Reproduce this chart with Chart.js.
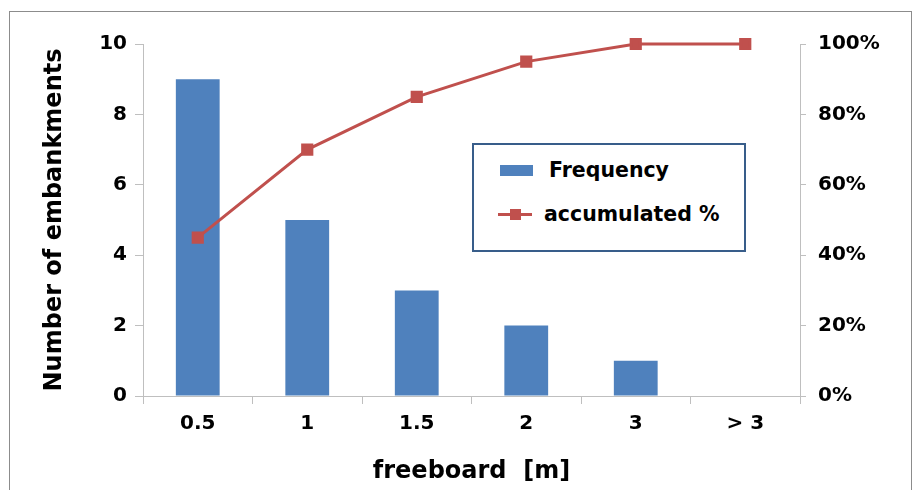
<!DOCTYPE html>
<html>
<head>
<meta charset="utf-8">
<script src="https://cdn.jsdelivr.net/npm/chart.js@4/dist/chart.umd.min.js"></script>
<style>
  html, body { margin: 0; padding: 0; background: #fff; }
  #wrap { position: relative; width: 918px; height: 490px; }
  #frame { position: absolute; left: 9px; top: 11px; width: 903px; height: 490px; border: 1px solid #8c8c8c; box-sizing: border-box; pointer-events: none; }
  #legend { position: absolute; left: 472px; top: 143px; width: 274px; height: 109px; border: 2.5px solid #385d8a; box-sizing: border-box; background: #fff;
    font-family: "DejaVu Sans", Verdana, sans-serif; font-weight: bold; font-size: 20.5px; color: #000; }
  .row { position: absolute; left: 0; display: flex; align-items: center; white-space: nowrap; }
  .sw-bar { width: 33px; height: 11px; background: #4f81bd; margin-left: 26px; margin-right: 16px; }
  .sw-line { position: relative; width: 34px; height: 11px; margin-left: 24px; margin-right: 12px; }
  .sw-line::before { content: ""; position: absolute; left: 0; right: 0; top: 4px; height: 3px; background: #c0504d; }
  .sw-line::after { content: ""; position: absolute; left: 12px; top: 0; width: 11px; height: 11px; background: #c0504d; }
</style>
</head>
<body>
<div id="wrap">
  <canvas id="chart" width="918" height="490"></canvas>
  <div id="frame"></div>
  <div id="legend"></div>
</div>
<script>
// Data
const categories = ['0.5', '1', '1.5', '2', '3', '> 3'];
const frequency = [9, 5, 3, 2, 1, 0];
const accumulated = [45, 70, 85, 95, 100, 100];

const tickFont = { family: '"DejaVu Sans", Verdana, sans-serif', weight: 'bold', size: 20 };
const titleFont = { family: '"DejaVu Sans", Verdana, sans-serif', weight: 'bold', size: 24 };
const axisGray = '#bfbfbf';

// HTML legend
const legendEl = document.getElementById('legend');
legendEl.innerHTML = `
  <div class="row" style="top:13px"><span class="sw-bar"></span>Frequency</div>
  <div class="row" style="top:57px"><span class="sw-line"></span>accumulated %</div>
`;

const ctx = document.getElementById('chart').getContext('2d');
new Chart(ctx, {
    data: {
        labels: categories,
        datasets: [
            {
                type: 'line',
                label: 'accumulated %',
                data: accumulated,
                yAxisID: 'y2',
                borderColor: '#c0504d',
                backgroundColor: '#c0504d',
                borderWidth: 3,
                pointStyle: 'rect',
                pointRadius: 6.5,
                pointHoverRadius: 6.5,
                tension: 0,
                clip: false
            },
            {
                type: 'bar',
                label: 'Frequency',
                data: frequency,
                yAxisID: 'y',
                backgroundColor: '#4f81bd',
                barPercentage: 0.8,
                categoryPercentage: 0.5
            }
        ]
    },
    options: {
        responsive: false,
        animation: false,
        layout: { padding: { left: 10, right: 10, top: 44, bottom: 0 } },
        plugins: {
            legend: { display: false },
            tooltip: { enabled: false }
        },
        scales: {
            x: {
                offset: true,
                grid: { display: true, drawOnChartArea: false, offset: true, tickLength: 8, color: axisGray },
                border: { color: axisGray },
                ticks: { font: tickFont, color: '#000', padding: 8 },
                title: { display: true, text: 'freeboard  [m]', font: titleFont, color: '#000', padding: { top: 14 } },
                afterFit: scale => { scale.height = 94; }
            },
            y: {
                position: 'left',
                min: 0,
                max: 10,
                ticks: { stepSize: 2, font: tickFont, color: '#000', padding: 8 },
                grid: { display: true, drawOnChartArea: false, tickLength: 8, color: axisGray },
                border: { color: axisGray },
                title: { display: true, text: 'Number of embankments', font: titleFont, color: '#000', padding: { top: 30, bottom: 0 } },
                afterFit: scale => { scale.width = 133; }
            },
            y2: {
                position: 'right',
                min: 0,
                max: 100,
                ticks: { stepSize: 20, font: tickFont, color: '#000', padding: 12, callback: v => v + '%' },
                grid: { display: true, drawOnChartArea: false, tickLength: 6, color: axisGray },
                border: { color: axisGray },
                afterFit: scale => { scale.width = 108; }
            }
        }
    }
});
</script>
</body>
</html>
